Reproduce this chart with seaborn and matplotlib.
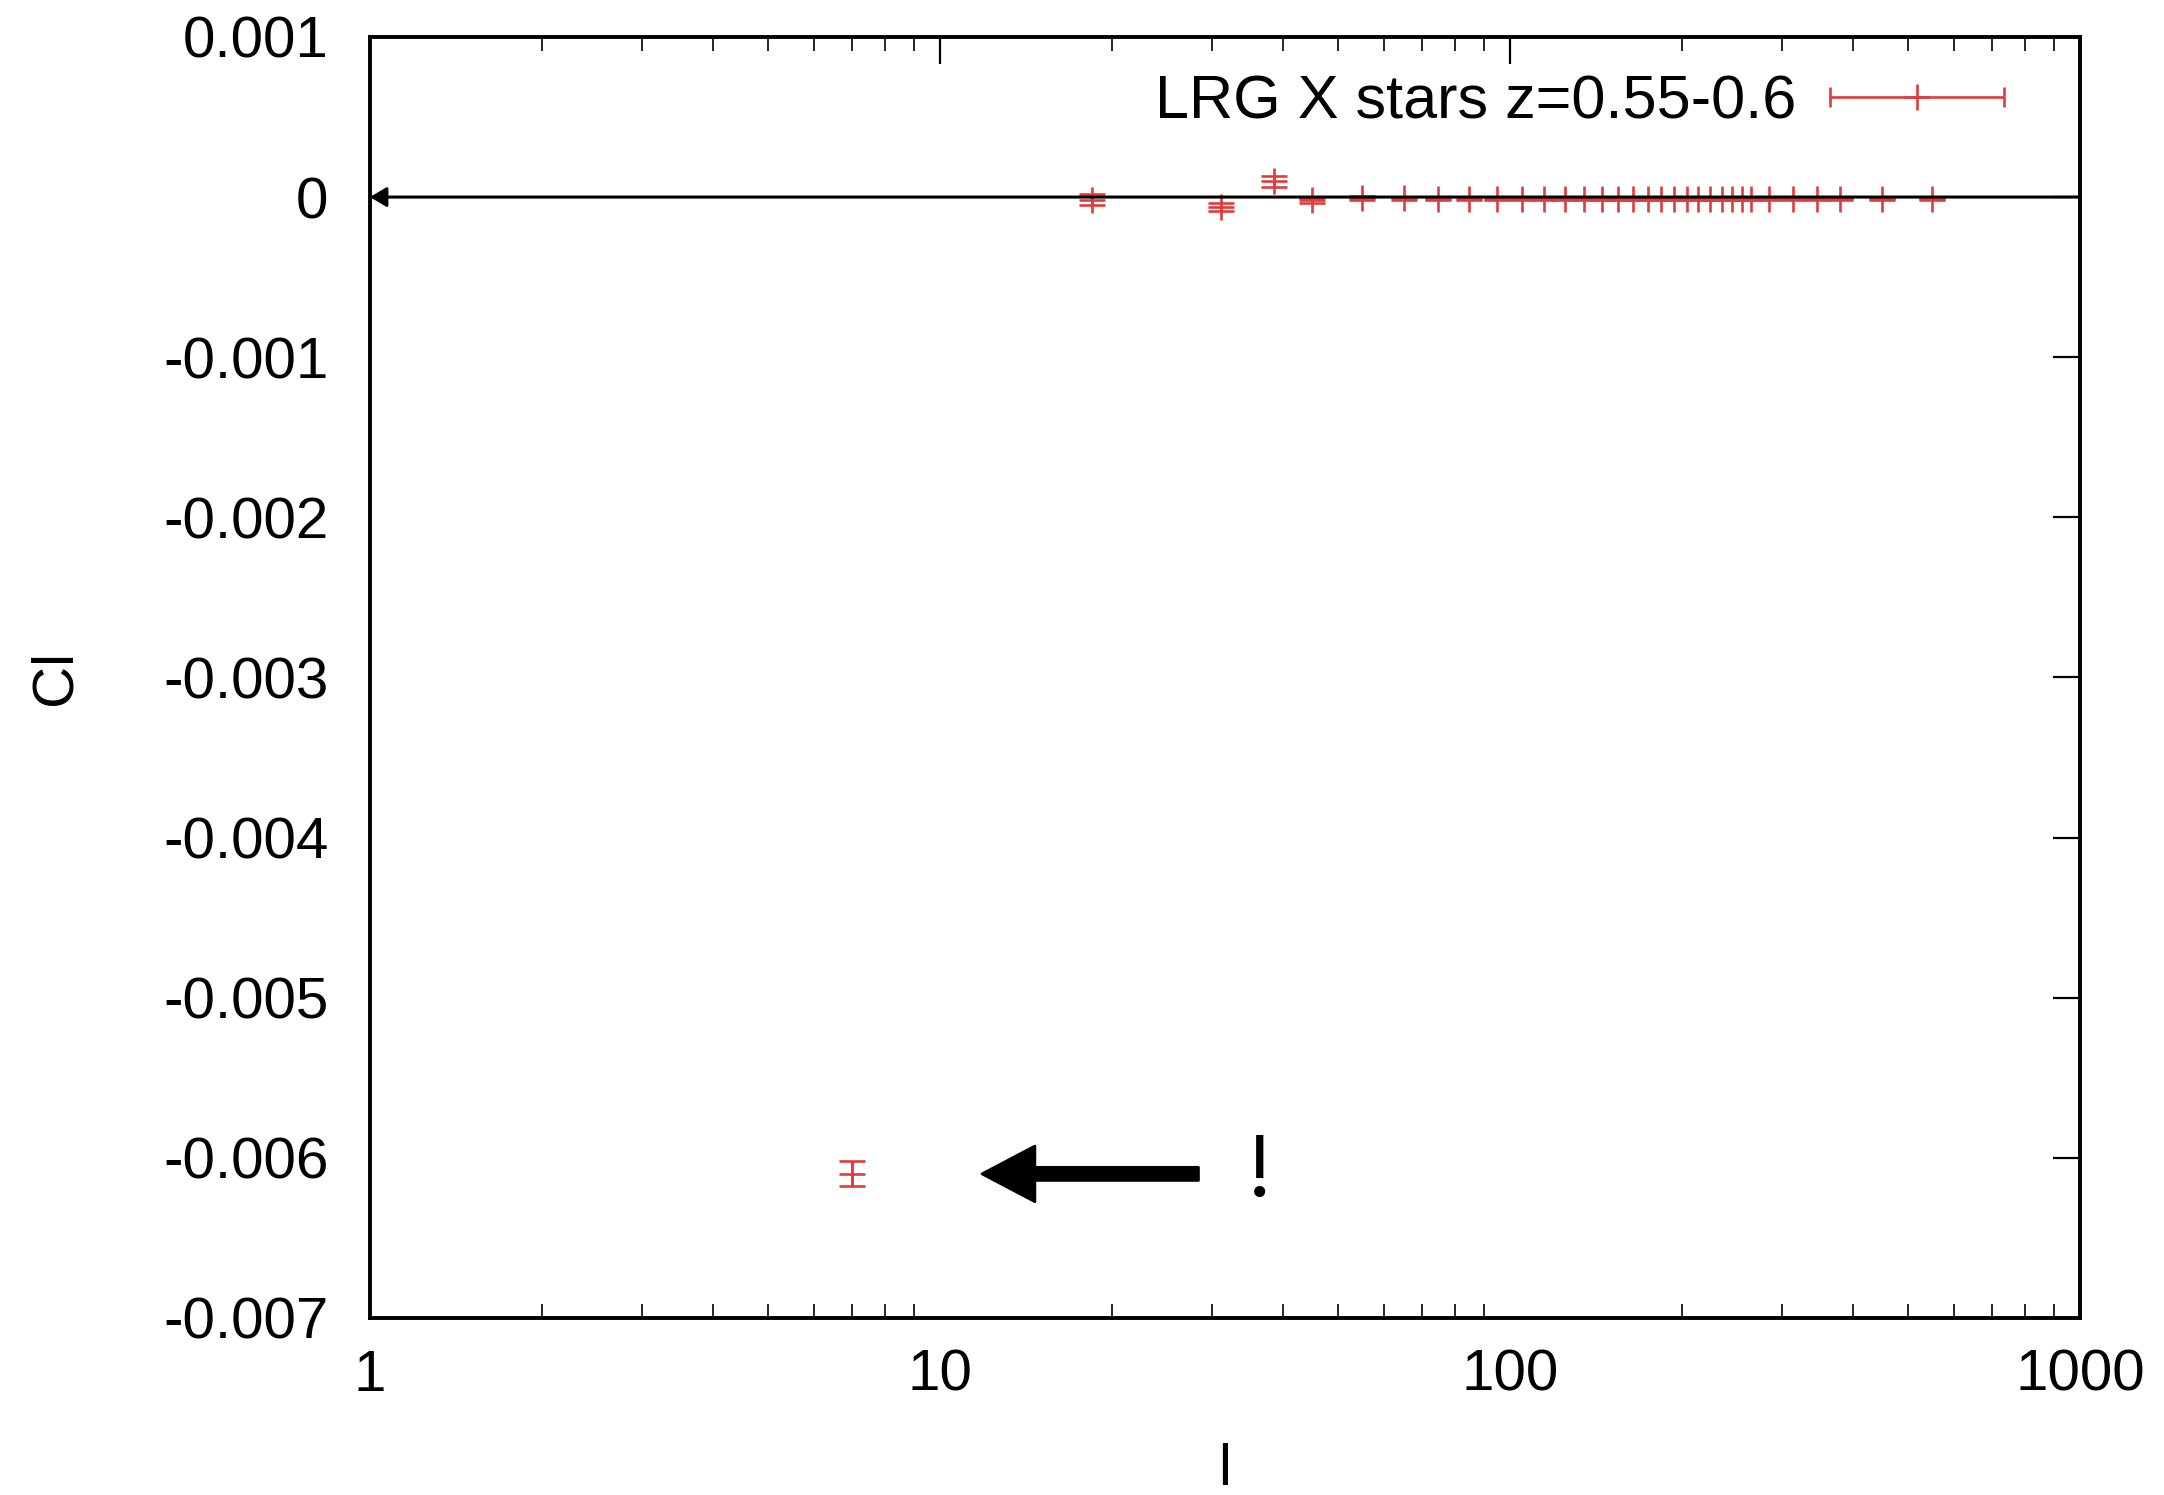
import numpy as np
import matplotlib
matplotlib.use("Agg")
import matplotlib.pyplot as plt
import seaborn as sns
from matplotlib.container import ErrorbarContainer
from matplotlib.legend_handler import HandlerErrorbar
from matplotlib.ticker import FixedLocator, FixedFormatter, LogLocator, NullFormatter

# ---- data ----
ell = [7.0, 18.5, 31.1, 38.5, 45.0, 55.0,
       65.2, 74.7, 84.8, 94.9, 105.0, 114.7, 124.9, 134.9, 145.0, 154.7,
       164.4, 174.7, 184.1, 194.0, 204.5, 213.7, 224.3, 235.4, 245.2, 255.3,
       264.7, 284.7, 313.7, 345.6, 379.3, 449.3, 550.1]
cl = [-0.0061, -0.000017, -0.00006, 0.000098, -0.000019, -0.0000075,
      -0.000008, -0.00001, -0.00001, -0.00001, -0.000012, -0.00001, -0.00001,
      -0.00001, -0.00001, -0.00001, -0.00001, -0.00001, -0.00001, -0.00001,
      -0.00001, -0.00001, -0.00001, -0.00001, -0.00001, -0.00001, -0.00001,
      -0.00001, -0.00001, -0.000012, -0.000012, -0.000012, -0.000012]
cl_err = [0.000078, 0.000033, 0.000026, 0.000033, 0.000016, 0.000012,
          0.00001, 0.000008, 0.000008, 0.000008, 0.000008, 0.000008, 0.000008,
          0.000008, 0.000008, 0.000008, 0.000008, 0.000008, 0.000008, 0.000008,
          0.000008, 0.000008, 0.000008, 0.000008, 0.000008, 0.000008, 0.000008,
          0.000008, 0.000008, 0.000008, 0.000008, 0.000008, 0.000008]
series_label = "LRG X stars z=0.55-0.6"

y_ticks = [0.001, 0.0, -0.001, -0.002, -0.003, -0.004, -0.005, -0.006, -0.007]
y_tick_labels = ["0.001", "0", "-0.001", "-0.002", "-0.003", "-0.004",
                 "-0.005", "-0.006", "-0.007"]
x_ticks = [1, 10, 100, 1000]
x_tick_labels = ["1", "10", "100", "1000"]

zero_line_from = (1000, 0.0)
zero_line_to = (1, 0.0)
big_arrow_from = (28.4, -0.0061)
big_arrow_to = (11.85, -0.0061)
bang_pos = (36.3, -0.0061)

# ---- style ----
sns.set_style("white")
plt.rcParams["font.family"] = ["Liberation Sans", "DejaVu Sans"]
plt.rcParams["text.color"] = "black"
plt.rcParams["axes.labelcolor"] = "black"
RED = "#e23b3b"
FS = 21.0
LEG_FS = 22.0
LW = 0.95

fig = plt.figure(figsize=(10.82, 7.475), dpi=200)
ax = fig.add_axes([0.171, 0.1184, 0.7902, 0.8569])

ax.set_xscale("log")
ax.set_xlim(1, 1000)
ax.set_ylim(-0.007, 0.001)

# error bars + points
ax.errorbar(ell, cl, yerr=cl_err, fmt="none", ecolor=RED, elinewidth=LW,
            capsize=4.7, capthick=LW, zorder=3)
sns.scatterplot(x=ell, y=cl, marker="+", s=94, color=RED, linewidth=LW,
                ax=ax, zorder=3, legend=False)

# legend proxy (gnuplot-style horizontal errorbar sample), not visible in the axes
proxy = ax.errorbar([np.nan], [np.nan], xerr=[1.0], fmt="+", color=RED,
                    markersize=9.7, markeredgewidth=LW, elinewidth=LW,
                    capsize=3.5, capthick=LW, label=series_label)
leg = ax.legend(handles=[proxy], loc="upper right", frameon=False,
                fontsize=LEG_FS, markerfirst=False, numpoints=1,
                handlelength=2.85, handletextpad=0.55,
                bbox_to_anchor=(0.970, 0.99), borderaxespad=0.0,
                labelcolor="black",
                handler_map={ErrorbarContainer: HandlerErrorbar(xerr_size=1.425, numpoints=1)})

# zero line arrow
ax.annotate("", xy=zero_line_to, xytext=zero_line_from,
            arrowprops=dict(arrowstyle="-|>,head_length=0.5,head_width=0.3",
                            color="black", lw=1.1, shrinkA=0, shrinkB=0),
            zorder=5, annotation_clip=False)

# big arrow and "!"
ax.annotate("", xy=big_arrow_to, xytext=big_arrow_from,
            arrowprops=dict(arrowstyle="simple,head_length=0.95,head_width=1.0,tail_width=0.235",
                            color="black", shrinkA=0, shrinkB=0, mutation_scale=20),
            zorder=5)
ax.text(bang_pos[0], bang_pos[1], "!", fontsize=34, family=["Liberation Serif", "DejaVu Serif"],
        ha="center", va="center", color="black")

# ticks
ax.yaxis.set_major_locator(FixedLocator(y_ticks))
ax.yaxis.set_major_formatter(FixedFormatter(y_tick_labels))
ax.xaxis.set_major_locator(FixedLocator(x_ticks))
ax.xaxis.set_major_formatter(FixedFormatter(x_tick_labels))
ax.xaxis.set_minor_locator(LogLocator(base=10, subs=np.arange(2, 10)))
ax.xaxis.set_minor_formatter(NullFormatter())

ax.tick_params(axis="both", which="major", direction="in", length=9.7, width=0.8,
               top=True, right=True, labelsize=FS, color="black", labelcolor="black")
ax.tick_params(axis="x", which="major", pad=11)
ax.tick_params(axis="y", which="major", pad=15)
ax.tick_params(axis="x", which="minor", direction="in", length=5, width=0.7,
               top=True, bottom=True)
ax.tick_params(axis="y", which="minor", left=False, right=False)

for sp in ax.spines.values():
    sp.set_linewidth(1.4)
    sp.set_color("black")
    sp.set_visible(True)

ax.set_xlabel("l", fontsize=FS, va="center", color="black")
ax.xaxis.set_label_coords(0.5, -0.1187)
ax.set_ylabel("Cl", fontsize=FS, va="center", color="black")
ax.yaxis.set_label_coords(-0.184, 0.5)

fig.savefig("out.png", dpi=200)
